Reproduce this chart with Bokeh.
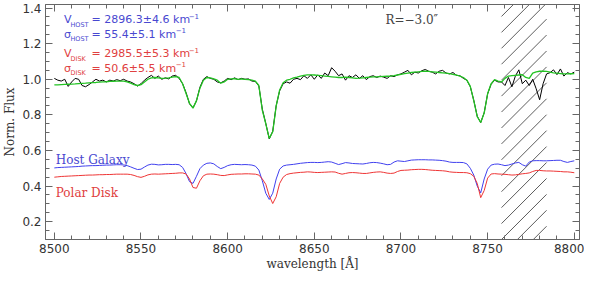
from bokeh.plotting import figure
from bokeh.models import (Range1d, LinearAxis, SingleIntervalTicker, PrintfTickFormatter,
                          Label, ColumnDataSource, CustomLabelingPolicy)
from bokeh.embed import file_html
from bokeh.resources import INLINE

# ---------------- data ----------------
wavelength = list(range(8500, 8801, 2))

observed = [
    1.005, 0.995, 0.990, 1.000, 0.960, 0.985, 1.005, 1.000, 0.965, 0.958,
    0.970, 0.985, 1.000, 0.990, 0.995, 0.985, 0.995, 0.990, 0.998, 0.992,
    1.000, 0.990, 0.985, 0.975, 0.962, 0.975, 0.995, 1.010, 1.022, 1.005,
    1.018, 1.000, 1.008, 1.002, 1.018, 1.022, 1.005, 0.975, 0.925, 0.862,
    0.840, 0.878, 0.955, 1.000, 1.015, 1.005, 1.000, 0.985, 0.980, 0.990,
    1.005, 0.998, 1.008, 0.998, 1.005, 1.000, 1.002, 0.990, 0.988, 0.962,
    0.832, 0.752, 0.665, 0.708, 0.852, 0.935, 0.975, 0.985, 0.978, 1.000,
    1.005, 0.998, 1.020, 1.005, 1.025, 1.000, 1.025, 1.005, 1.035, 1.020,
    1.065, 1.045, 1.020, 1.030, 0.995, 1.020, 1.010, 1.025, 1.005, 1.020,
    0.998, 1.015, 1.020, 1.010, 1.018, 1.012, 1.005, 1.020, 1.015, 1.025,
    1.030, 1.040, 1.050, 1.025, 1.040, 1.035, 1.048, 1.055, 1.045, 1.040,
    1.030, 1.045, 1.050, 1.035, 1.030, 1.038, 1.022, 1.020, 1.005, 0.995,
    0.958, 0.882, 0.792, 0.757, 0.812, 0.918, 0.972, 0.995, 0.985, 0.985,
    0.965, 1.010, 0.958, 1.018, 1.053, 0.975, 0.995, 0.965, 1.000, 0.947,
    0.885, 0.975, 1.030, 1.037, 1.053, 1.026, 1.058, 1.018, 1.037, 1.030,
    1.040,
]

best_fit = [
    0.968, 0.969, 0.970, 0.971, 0.972, 0.973, 0.974, 0.976, 0.977, 0.978,
    0.980, 0.981, 0.982, 0.984, 0.985, 0.986, 0.988, 0.989, 0.990, 0.990,
    0.990, 0.985, 0.978, 0.970, 0.965, 0.970, 0.985, 1.000, 1.008, 1.010,
    1.008, 1.005, 1.006, 1.008, 1.012, 1.015, 1.010, 0.975, 0.920, 0.865,
    0.838, 0.880, 0.950, 0.995, 1.010, 1.008, 1.002, 0.995, 0.978, 0.985,
    1.000, 1.002, 1.003, 1.000, 1.002, 1.000, 0.998, 0.995, 0.990, 0.965,
    0.825, 0.750, 0.668, 0.705, 0.850, 0.940, 0.980, 0.995, 1.000, 1.008,
    1.012, 1.018, 1.022, 1.025, 1.025, 1.024, 1.022, 1.020, 1.018, 1.016,
    1.014, 1.012, 1.010, 1.010, 1.012, 1.010, 1.008, 1.005, 1.006, 1.008,
    1.010, 1.012, 1.013, 1.014, 1.015, 1.016, 1.017, 1.018, 1.020, 1.024,
    1.028, 1.032, 1.035, 1.038, 1.040, 1.042, 1.044, 1.045, 1.044, 1.042,
    1.040, 1.038, 1.036, 1.034, 1.032, 1.028, 1.024, 1.018, 1.010, 0.995,
    0.960, 0.880, 0.790, 0.757, 0.810, 0.920, 0.975, 0.998, 0.990, 0.985,
    1.005, 1.018, 1.020, 1.022, 1.024, 1.026, 1.010, 1.005, 1.035, 1.042,
    1.045, 1.045, 1.044, 1.040, 1.036, 1.034, 1.032, 1.030, 1.030, 1.031,
    1.032,
]

host_galaxy = [
    0.502, 0.504, 0.505, 0.506, 0.507, 0.508, 0.509, 0.510, 0.512, 0.513,
    0.514, 0.515, 0.515, 0.516, 0.517, 0.518, 0.518, 0.519, 0.520, 0.520,
    0.519, 0.515, 0.508, 0.500, 0.493, 0.495, 0.507, 0.518, 0.523, 0.522,
    0.519, 0.520, 0.522, 0.522, 0.521, 0.522, 0.520, 0.505, 0.470, 0.425,
    0.415, 0.455, 0.498, 0.518, 0.528, 0.530, 0.525, 0.510, 0.498, 0.505,
    0.515, 0.520, 0.522, 0.521, 0.520, 0.521, 0.520, 0.518, 0.512, 0.490,
    0.430, 0.360, 0.325, 0.360, 0.440, 0.495, 0.513, 0.518, 0.520, 0.522,
    0.525, 0.528, 0.530, 0.532, 0.533, 0.533, 0.532, 0.533, 0.535, 0.537,
    0.535, 0.528, 0.521, 0.526, 0.532, 0.530, 0.527, 0.526, 0.525, 0.524,
    0.527, 0.531, 0.533, 0.532, 0.529, 0.525, 0.520, 0.522, 0.535, 0.542,
    0.540, 0.538, 0.542, 0.546, 0.547, 0.548, 0.548, 0.548, 0.547, 0.547,
    0.546, 0.545, 0.543, 0.540, 0.535, 0.533, 0.533, 0.533, 0.532, 0.525,
    0.500, 0.462, 0.400, 0.362, 0.440, 0.495, 0.518, 0.523, 0.524, 0.520,
    0.515, 0.518, 0.524, 0.530, 0.533, 0.520, 0.512, 0.535, 0.542, 0.543,
    0.543, 0.542, 0.542, 0.543, 0.544, 0.545, 0.545, 0.538, 0.533, 0.538,
    0.542,
]

polar_disk = [
    0.450, 0.452, 0.454, 0.455, 0.456, 0.457, 0.458, 0.459, 0.460, 0.461,
    0.462, 0.462, 0.463, 0.464, 0.464, 0.465, 0.465, 0.466, 0.467, 0.467,
    0.467, 0.467, 0.465, 0.460, 0.453, 0.449, 0.455, 0.463, 0.467, 0.468,
    0.467, 0.468, 0.469, 0.470, 0.471, 0.472, 0.474, 0.474, 0.468, 0.440,
    0.392, 0.388, 0.430, 0.458, 0.467, 0.468, 0.467, 0.464, 0.460, 0.459,
    0.463, 0.466, 0.467, 0.468, 0.468, 0.469, 0.469, 0.468, 0.467, 0.462,
    0.440, 0.410, 0.345, 0.302, 0.340, 0.415, 0.450, 0.465, 0.470, 0.473,
    0.475, 0.477, 0.478, 0.480, 0.479, 0.477, 0.476, 0.477, 0.478, 0.479,
    0.480, 0.479, 0.472, 0.467, 0.471, 0.475, 0.476, 0.475, 0.473, 0.471,
    0.471, 0.474, 0.477, 0.479, 0.480, 0.477, 0.473, 0.471, 0.473, 0.482,
    0.488, 0.489, 0.490, 0.492, 0.493, 0.494, 0.494, 0.493, 0.491, 0.489,
    0.488, 0.487, 0.486, 0.484, 0.480, 0.478, 0.477, 0.476, 0.476, 0.475,
    0.470, 0.455, 0.415, 0.335, 0.375, 0.445, 0.468, 0.470, 0.468, 0.467,
    0.466, 0.464, 0.462, 0.463, 0.466, 0.469, 0.471, 0.474, 0.482, 0.488,
    0.488, 0.486, 0.485, 0.485, 0.484, 0.483, 0.482, 0.480, 0.480, 0.478,
    0.475,
]

masked_region = [8758, 8784]
x_limits = [8494.9, 8803.0]
y_limits = [0.1, 1.42]

host_lines = [("V", "HOST", "= 2896.3\u00b14.6 km", "\u22121"),
              ("\u03c3", "HOST", "= 55.4\u00b15.1 km", "\u22121")]
disk_lines = [("V", "DISK", "= 2985.5\u00b15.3 km", "\u22121"),
              ("\u03c3", "DISK", "= 50.6\u00b15.5 km", "\u22121")]

# ---------------- figure ----------------
src = ColumnDataSource(dict(w=wavelength, obs=observed, fit=best_fit,
                            host=host_galaxy, disk=polar_disk))

p = figure(width=584, height=273, output_backend="svg", toolbar_location=None,
           x_range=Range1d(*x_limits), y_range=Range1d(*y_limits),
           min_border_left=35, min_border_right=2, min_border_top=1, min_border_bottom=30)
p.background_fill_color = "white"
p.border_fill_color = "white"
p.outline_line_color = "#777777"
p.grid.visible = False

AX = "#666666"
TXT = "#333333"

no_labels = CustomLabelingPolicy(code="""
const all = [...indices];
for (const i of all) indices.unset(i);
return indices;
""")

def style(ax, labels=True):
    ax.axis_line_color = AX
    ax.major_tick_line_color = AX
    ax.minor_tick_line_color = AX
    ax.major_tick_in = 7
    ax.major_tick_out = 0
    ax.minor_tick_in = 4
    ax.minor_tick_out = 0
    ax.major_label_text_font = "DejaVu Sans"
    ax.major_label_text_color = TXT
    ax.axis_label_text_font = "DejaVu Serif"
    ax.axis_label_text_font_style = "normal"
    ax.axis_label_text_color = TXT
    ax.axis_label_text_font_size = "12px"
    if labels:
        ax.major_label_text_font_size = "12px"
    else:
        ax.major_label_text_font_size = "1px"
        ax.major_label_standoff = 0
        ax.major_label_policy = no_labels

p.xaxis.ticker = SingleIntervalTicker(interval=50, num_minor_ticks=5)
p.yaxis.ticker = SingleIntervalTicker(interval=0.2, num_minor_ticks=4)
p.yaxis.formatter = PrintfTickFormatter(format="%.1f")
p.xaxis.axis_label = "wavelength [\u00c5]"
p.yaxis.axis_label = "Norm. Flux"
style(p.xaxis[0])
style(p.yaxis[0])
p.xaxis.major_label_standoff = 4
p.xaxis.axis_label_standoff = 1
p.yaxis.major_label_standoff = 4
p.yaxis.axis_label_standoff = 2

top = LinearAxis(ticker=SingleIntervalTicker(interval=50, num_minor_ticks=5))
right = LinearAxis(ticker=SingleIntervalTicker(interval=0.2, num_minor_ticks=4))
style(top, labels=False)
style(right, labels=False)
p.add_layout(top, "above")
p.add_layout(right, "right")

# hatched masked region: 45-degree lines on screen, clipped to the region
frame_w, frame_h = 537.0, 236.0          # approximate frame size in px
sx = frame_w / (x_limits[1] - x_limits[0])
sy = frame_h / (y_limits[1] - y_limits[0])
W = (masked_region[1] - masked_region[0]) * sx
spacing = 16.0
hx0, hy0, hx1, hy1 = [], [], [], []
c = -spacing * (int(frame_h // spacing) + 1)
while c < W:
    a, b = max(0.0, c), min(W, c + frame_h)
    if b > a:
        hx0.append(masked_region[0] + a / sx)
        hy0.append(y_limits[0] + (a - c) / sy)
        hx1.append(masked_region[0] + b / sx)
        hy1.append(y_limits[0] + (b - c) / sy)
    c += spacing
p.segment(hx0, hy0, hx1, hy1, color="#333333", line_width=0.8)

# spectra
p.line("w", "obs", source=src, color="black", line_width=1)
p.line("w", "fit", source=src, color="#22c322", line_width=1.3)
p.line("w", "host", source=src, color="#4040ee", line_width=1)
p.line("w", "disk", source=src, color="#ee3535", line_width=1)

BLUE_T = "#4848d0"
RED_T = "#e04040"

def kin_line(sym, sub, main, sup, base_y, sup_x, color):
    p.add_layout(Label(x=8505.6, y=base_y, text=sym, text_color=color,
                       text_font="DejaVu Sans", text_font_size="11px",
                       text_baseline="alphabetic"))
    p.add_layout(Label(x=8509.3, y=base_y - 0.03, text=sub, text_color=color,
                       text_font="DejaVu Sans", text_font_size="6.5px",
                       text_baseline="alphabetic"))
    p.add_layout(Label(x=8521.5, y=base_y, text=main, text_color=color,
                       text_font="DejaVu Sans", text_font_size="11px",
                       text_baseline="alphabetic"))
    p.add_layout(Label(x=sup_x, y=base_y + 0.024, text=sup, text_color=color,
                       text_font="DejaVu Sans", text_font_size="7px",
                       text_baseline="alphabetic"))

kin_line(*host_lines[0], 1.333, 8577.5, BLUE_T)
kin_line(*host_lines[1], 1.254, 8570.0, BLUE_T)
kin_line(*disk_lines[0], 1.143, 8577.5, RED_T)
kin_line(*disk_lines[1], 1.063, 8570.0, RED_T)

p.add_layout(Label(x=8691, y=1.333, text="R=\u22123.0\u2033", text_color="#444444",
                   text_font="DejaVu Serif", text_font_size="12px",
                   text_baseline="alphabetic"))
p.add_layout(Label(x=8500.8, y=0.545, text="Host Galaxy", text_color=BLUE_T,
                   text_font="DejaVu Serif", text_font_size="12px",
                   text_baseline="alphabetic"))
p.add_layout(Label(x=8500.8, y=0.36, text="Polar Disk", text_color=RED_T,
                   text_font="DejaVu Serif", text_font_size="12px",
                   text_baseline="alphabetic"))

open("out.html", "w").write(file_html(p, INLINE))
